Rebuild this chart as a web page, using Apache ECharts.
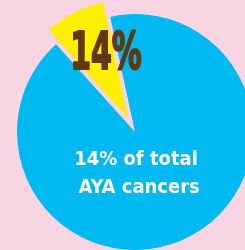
<!DOCTYPE html>
<html>
<head>
<meta charset="utf-8">
<script src="https://cdn.jsdelivr.net/npm/echarts@6/dist/echarts.min.js"></script>
<style>
  html, body { margin: 0; padding: 0; background: #f9d5e3; }
  #app { width: 245px; height: 250px; }
</style>
</head>
<body>
<div id="app"></div>
<script>
// slice names and shares as drawn (the wedge is drawn ~30 degrees wide)
var categories = ['Share', 'Rest'];
var values = [8.3, 91.7];
var sliceLabel = '14%';
var colors = ['#fff000', '#00b9f0'];
var captionLines = ['14% of total', ' AYA cancers'];

var chart = echarts.init(document.getElementById('app'));

var pieData = categories.map(function (name, i) {
    return {
        name: name,
        value: values[i],
        selected: i === 0,
        itemStyle: { color: colors[i] }
    };
});

chart.setOption({
    animation: false,
    backgroundColor: '#f9d5e3',
    title: {
        text: captionLines.join('\n'),
        left: 131,
        top: 141,
        textAlign: 'center',
        textStyle: {
            color: '#ffffff',
            fontSize: 20,
            fontWeight: 'bold',
            lineHeight: 28,
            fontFamily: '"DejaVu Sans Condensed", "DejaVu Sans", sans-serif'
        }
    },
    // narrow condensed label sitting in the pulled-out wedge
    graphic: [{
        type: 'text',
        x: 106,
        y: 55,
        z: 100,
        scaleX: 0.64,
        silent: true,
        style: {
            text: sliceLabel,
            align: 'center',
            verticalAlign: 'middle',
            fill: '#603913',
            stroke: '#603913',
            lineWidth: 2,
            font: 'bold 52px "DejaVu Sans Condensed", "DejaVu Sans", sans-serif'
        }
    }],
    series: [{
        type: 'pie',
        center: [135, 132],
        radius: 118,
        startAngle: 132,
        clockwise: true,
        selectedMode: 'single',
        selectedOffset: 16,
        silent: true,
        label: { show: false },
        labelLine: { show: false },
        data: pieData
    }]
});
</script>
</body>
</html>
